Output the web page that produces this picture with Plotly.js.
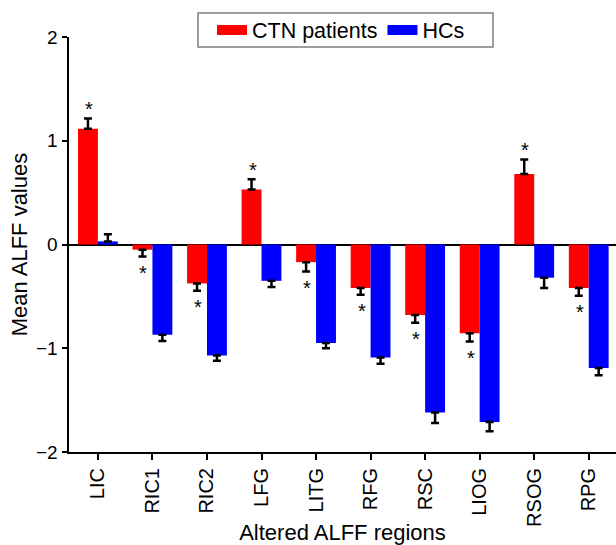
<!DOCTYPE html>
<html>
<head>
<meta charset="utf-8">
<script src="https://cdn.plot.ly/plotly-3.0.1.min.js"></script>
<style>html,body{margin:0;padding:0;background:#fff}#chart{width:616px;height:545px}</style>
</head>
<body>
<div id="chart"></div>
<script>
const categories = ["LIC","RIC1","RIC2","LFG","LITG","RFG","RSC","LIOG","RSOG","RPG"];
const ctnValues = [1.115, -0.05, -0.375, 0.53, -0.17, -0.42, -0.68, -0.855, 0.68, -0.42];
const ctnErrors = [0.10, 0.065, 0.07, 0.10, 0.09, 0.065, 0.075, 0.08, 0.14, 0.075];
const hcValues = [0.03, -0.87, -1.07, -0.35, -0.95, -1.09, -1.62, -1.71, -0.32, -1.19];
const hcErrors = [0.07, 0.06, 0.05, 0.06, 0.05, 0.06, 0.10, 0.09, 0.10, 0.07];
const ctnSignificant = [true, true, true, true, true, true, true, true, true, true];
const seriesNames = ["CTN patients", "HCs"];
const seriesColors = ["#ff0000", "#0000ff"];

const FONT = "Liberation Sans, Arial, Helvetica, sans-serif";
const up = (v, e) => v.map((x, i) => x >= 0 ? e[i] : 0);
const down = (v, e) => v.map((x, i) => x < 0 ? e[i] : 0);

const errStyle = {color: "#000", thickness: 2.5, width: 4};

const traces = [
  {type: "bar", name: seriesNames[0], x: categories, y: ctnValues, showlegend: false,
   marker: {color: seriesColors[0]},
   error_y: Object.assign({type: "data", symmetric: false, array: up(ctnValues, ctnErrors), arrayminus: down(ctnValues, ctnErrors)}, errStyle)},
  {type: "bar", name: seriesNames[1], x: categories, y: hcValues, showlegend: false,
   marker: {color: seriesColors[1]},
   error_y: Object.assign({type: "data", symmetric: false, array: up(hcValues, hcErrors), arrayminus: down(hcValues, hcErrors)}, errStyle)},
  // legend keys (wide rectangular swatches)
  {type: "scatter", mode: "lines", name: seriesNames[0], x: [null], y: [null],
   line: {color: seriesColors[0], width: 12}, hoverinfo: "skip"},
  {type: "scatter", mode: "lines", name: seriesNames[1], x: [null], y: [null],
   line: {color: seriesColors[1], width: 12}, hoverinfo: "skip"}
];

const annotations = [];
categories.forEach((c, i) => {
  if (!ctnSignificant[i]) return;
  const v = ctnValues[i], e = ctnErrors[i];
  const pos = v >= 0;
  annotations.push({
    x: c, y: pos ? v + e + 0.125 : v - e - 0.12, xref: "x", yref: "y",
    text: "*", showarrow: false, xshift: -9, yshift: -4,
    yanchor: "middle", font: {family: FONT, size: 20, color: "#000"}
  });
});

// legend frame (pixel box converted to paper coordinates)
const L = 69, PW = 547, T = 37, PH = 415;
const shapes = [{
  type: "rect", xref: "paper", yref: "paper", layer: "above",
  x0: (198 - L) / PW, x1: (493 - L) / PW,
  y0: (T + PH - 47) / PH, y1: (T + PH - 13) / PH,
  line: {color: "#7f7f7f", width: 1.5}, fillcolor: "rgba(0,0,0,0)"
}];

const layout = {
  width: 616, height: 545,
  margin: {l: L, r: 0, t: T, b: 93, autoexpand: false},
  paper_bgcolor: "#fff", plot_bgcolor: "#fff",
  font: {family: FONT, size: 16, color: "#000"},
  barmode: "group", bargap: 0.27, bargroupgap: 0,
  showlegend: true,
  legend: {orientation: "h", x: (212 - L) / PW, xanchor: "left", xref: "paper",
           y: 1 - 30 / 545, yref: "container", yanchor: "middle",
           borderwidth: 0, font: {family: FONT, size: 21.5},
           itemwidth: 30, traceorder: "normal", bgcolor: "rgba(0,0,0,0)", tracegroupgap: 0},
  xaxis: {
    type: "category",
    range: [-0.53, 9.5], showgrid: false, zeroline: false,
    showline: true, linecolor: "#000", linewidth: 2,
    ticks: "outside", ticklen: 6, tickwidth: 2, tickcolor: "#000",
    tickangle: -90, tickfont: {family: FONT, size: 20},
    title: {text: "Altered ALFF regions", font: {family: FONT, size: 22}, standoff: 2}
  },
  yaxis: {
    range: [-2, 2], dtick: 1, showgrid: false,
    zeroline: true, zerolinecolor: "#000", zerolinewidth: 2,
    showline: true, linecolor: "#000", linewidth: 2.5,
    ticks: "outside", ticklen: 5, tickwidth: 2, tickcolor: "#000",
    tickfont: {family: FONT, size: 19},
    title: {text: "Mean ALFF values", font: {family: FONT, size: 22}, standoff: 3}
  },
  shapes: shapes,
  annotations: annotations
};

Plotly.newPlot("chart", traces, layout, {displayModeBar: false, staticPlot: true});
</script>
</body>
</html>
